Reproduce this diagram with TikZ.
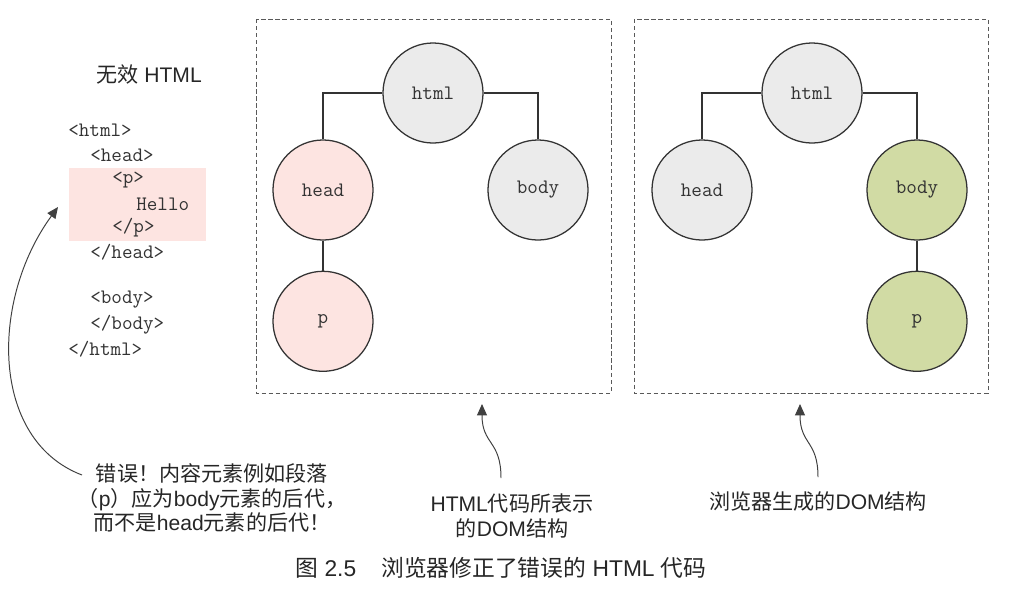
\documentclass[tikz,border=0pt]{standalone}
\usepackage{fontspec}
\setmainfont{Liberation Sans}
\newfontfamily\cjk{Noto Sans CJK SC}
\usetikzlibrary{positioning,arrows.meta}
\definecolor{nodegray}{HTML}{EBEBEB}
\definecolor{nodepink}{HTML}{FDE4E1}
\definecolor{nodegreen}{HTML}{D1DBA4}
\definecolor{ink}{HTML}{333333}
\newcommand{\zh}[1]{{\cjk #1}}

\begin{document}
\begin{tikzpicture}%
  [x=0.025cm,y=-0.025cm,
   elem/.style=
    {circle,draw=ink,line width=0.9pt,minimum size=2.5cm,inner sep=0pt,
     font=\ttfamily\fontsize{14.6}{16}\selectfont,text=ink},
   code/.style=
    {anchor=west,inner sep=0pt,font=\ttfamily\fontsize{14.6}{16}\selectfont,text=ink},
   remark/.style=
    {align=center,inner sep=0pt,font=\fontsize{15}{17.7}\selectfont,text=black!85},
   dombox/.style={draw=black!65,dash pattern=on 3pt off 2pt,line width=0.7pt},
   link/.style={draw=ink,line width=0.8pt},
   note/.style={draw=black!75,line width=0.7pt,-{Triangle[length=8pt,width=7pt]}}
  ]
  \useasboundingbox (0,0) rectangle (1014,588);
  % invalid markup
  \node[remark] (title) at (149,74) {\zh{无效} HTML};
  \fill[nodepink] (69,168) rectangle (206,241);
  \node[code] (c1) at (68,130) {<html>};
  \node[code] (c2) at (90,155) {<head>};
  \node[code] (c3) at (112,180) {<p>};
  \node[code] (c4) at (136,204) {Hello};
  \node[code] (c5) at (112,228) {</p>};
  \node[code] (c6) at (90,252) {</head>};
  \node[code] (c7) at (90,300) {<body>};
  \node[code] (c8) at (90,325) {</body>};
  \node[code] (c9) at (68,349) {</html>};
  % tree as written
  \draw[dombox] (256,19) rectangle (611,393);
  \node[elem,fill=nodegray] (html1) at (433,93) {html};
  \node[elem,fill=nodepink] (head1) at (323,190) {head};
  \node[elem,fill=nodegray] (body1) at (538,190) {body};
  \node[elem,fill=nodepink,below=0.75cm of head1] (p1) {p};
  \draw[link] (html1.west) -| (head1.north);
  \draw[link] (html1.east) -| (body1.north);
  \draw[link] (head1) -- (p1);
  % tree as fixed by the browser
  \draw[dombox] (634,19) rectangle (988,393);
  \node[elem,fill=nodegray] (html2) at (812,93) {html};
  \node[elem,fill=nodegray] (head2) at (702,190) {head};
  \node[elem,fill=nodegreen] (body2) at (917,190) {body};
  \node[elem,fill=nodegreen,below=0.75cm of body2] (p2) {p};
  \draw[link] (html2.west) -| (head2.north);
  \draw[link] (html2.east) -| (body2.north);
  \draw[link] (body2) -- (p2);
  % annotations
  \node[remark] (err) at (212,498)
    {\zh{错误！内容元素例如段落}\\\zh{（}p\zh{）应为}body\zh{元素的后代，}\\\zh{而不是}head\zh{元素的后代！}};
  \coordinate (errtip) at (58,207);
  \coordinate (errfoot) at (82,475);
  \draw[note] (errfoot) .. controls (-10,440) and (-10,300) .. (errtip);
  \node[remark] (dom1) at (512,516) {HTML\zh{代码所表示}\\\zh{的}DOM\zh{结构}};
  \coordinate (dom1tip) at (482,404);
  \coordinate (dom1foot) at (501,478);
  \draw[note] (dom1foot) .. controls (501,440) and (482,445) .. (dom1tip);
  \node[remark] (dom2) at (818,502) {\zh{浏览器生成的}DOM\zh{结构}};
  \coordinate (dom2tip) at (800,404);
  \coordinate (dom2foot) at (818,477);
  \draw[note] (dom2foot) .. controls (818,440) and (800,445) .. (dom2tip);
  % caption
  \node[font=\fontsize{16.2}{19}\selectfont,text=black!85,inner sep=0pt] (fig) at (501,568)
    {\zh{图} 2.5\hspace{1.1em}\zh{浏览器修正了错误的} HTML \zh{代码}};
\end{tikzpicture}
\end{document}
